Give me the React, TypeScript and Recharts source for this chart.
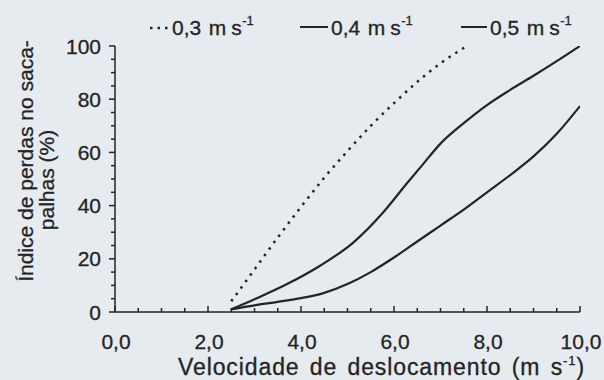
import React from 'react';
import { LineChart, Line, XAxis, YAxis, Legend } from 'recharts';

// ---- data ----
const speed03 = [2.5, 3.0, 3.5, 4.0, 4.5, 5.0, 5.5, 6.0, 6.5, 7.0, 7.57];
const loss03 = [4, 16, 28, 39.5, 50.5, 60.5, 70, 78.5, 86.5, 93.5, 100];

const speed04 = [2.5, 3.0, 3.69, 4.41, 5.13, 5.77, 6.27, 6.63, 7.0, 7.5, 8.0, 8.5, 9.0, 9.5, 10];
const loss04 = [1, 4.8, 10.4, 17.4, 26.2, 37.5, 48.2, 55.7, 63.3, 71, 77.8, 83.5, 88.8, 94.3, 100];

const speed05 = [2.5, 3.0, 3.5, 4.0, 4.5, 5.0, 5.5, 6.0, 6.5, 7.0, 7.5, 8.0, 8.5, 9.0, 9.5, 10];
const loss05 = [1, 2.5, 3.8, 5.2, 7.2, 10.5, 15, 20.5, 26.5, 32.5, 38.5, 45, 51.5, 58.5, 67, 77.4];

const seriesNames = ['0,3', '0,4', '0,5'];
const unitMain = 'm';
const unitSecond = 's';
const unitSup = '-1';

const xTickValues = [0, 0.5, 1, 1.5, 2, 2.5, 3, 3.5, 4, 4.5, 5, 5.5, 6, 6.5, 7, 7.5, 8, 8.5, 9, 9.5, 10];
const xMajorTicks = [0, 2, 4, 6, 8, 10];
const yTickValues = [0, 5, 10, 15, 20, 25, 30, 35, 40, 45, 50, 55, 60, 65, 70, 75, 80, 85, 90, 95, 100];
const yMajorTicks = [0, 20, 40, 60, 80, 100];

const xTitle = 'Velocidade de deslocamento (m s';
const yTitleLine1 = 'Índice de perdas no saca-';
const yTitleLine2 = 'palhas (%)';

const toPoints = (xs: number[], ys: number[]) => xs.map((x, i) => ({ x, y: ys[i] }));
const data03 = toPoints(speed03, loss03);
const data04 = toPoints(speed04, loss04);
const data05 = toPoints(speed05, loss05);

const INK = '#242424';
const BG = '#e5ebee';
const FONT = '"Liberation Sans", Arial, Helvetica, sans-serif';
const TXT = { fill: INK, fontFamily: FONT, stroke: INK, strokeWidth: 0.3 } as const;

const XTick = (props: any) => {
  const { x, y, payload } = props;
  const v = payload.value as number;
  const major = xMajorTicks.includes(v);
  return (
    <g>
      <line x1={x} x2={x} y1={y} y2={y - (major ? 6 : 4)} stroke={INK} strokeWidth={1.5} />
      {major && (
        <text x={x + 1} y={y + 37} textAnchor="middle" fontSize={21} {...TXT}>
          {v.toFixed(1).replace('.', ',')}
        </text>
      )}
    </g>
  );
};

const YTick = (props: any) => {
  const { x, y, payload } = props;
  const v = payload.value as number;
  const major = yMajorTicks.includes(v);
  return (
    <g>
      <line x1={x} x2={x - (major ? 6 : 4)} y1={y} y2={y} stroke={INK} strokeWidth={1.5} />
      {major && (
        <text x={x - 14} y={y + 7.5} textAnchor="end" fontSize={21} {...TXT}>
          {v}
        </text>
      )}
    </g>
  );
};

const XTitle = (props: any) => {
  const vb = props.viewBox || { x: 115, y: 312, width: 465 };
  const cx = vb.x + vb.width / 2 + 34;
  return (
    <text x={cx} y={vb.y + 63} textAnchor="middle" fontSize={23} letterSpacing={0.9} wordSpacing={3} {...TXT}>
      {xTitle}
      <tspan fontSize={13} dy={-10}>{unitSup}</tspan>
      <tspan dy={10}>)</tspan>
    </text>
  );
};

const YTitle = () => (
  <g fontSize={21} {...TXT}>
    <text x={33} y={161} textAnchor="middle" transform="rotate(-90 33 161)">{yTitleLine1}</text>
    <text x={54} y={180} textAnchor="middle" transform="rotate(-90 54 180)">{yTitleLine2}</text>
  </g>
);

const legendLayout = [
  { lineFrom: 150, lineTo: 168, textX: 172, dash: '2.5 5' },
  { lineFrom: 300, lineTo: 328, textX: 331, dash: undefined },
  { lineFrom: 461, lineTo: 487, textX: 490, dash: undefined },
];

const renderLegend = () => (
  <div style={{ position: 'relative', width: 604, height: 0 }}>
    <svg width={604} height={46} style={{ position: 'absolute', left: 0, top: 0, overflow: 'visible' }}>
      {seriesNames.map((name, i) => {
        const l = legendLayout[i];
        return (
          <g key={name}>
            <line
              x1={l.lineFrom}
              x2={l.lineTo}
              y1={i === 0 ? 28 : 27}
              y2={i === 0 ? 28 : 27}
              stroke={INK}
              strokeWidth={i === 0 ? 2.5 : 2}
              strokeDasharray={l.dash}
            />
            <text x={l.textX} y={35} fontSize={21} {...TXT}>
              {name}
              <tspan dx={7.5}>{unitMain}</tspan>
              <tspan dx={5}>{unitSecond}</tspan>
              <tspan dx={0.5} dy={-10} fontSize={13}>{unitSup}</tspan>
            </text>
          </g>
        );
      })}
    </svg>
  </div>
);

export default function App() {
  return (
    <div style={{ position: 'absolute', left: 0, top: 0, width: 604, height: 380, background: BG, overflow: 'hidden' }}>
      <LineChart width={604} height={380} margin={{ top: 46, right: 24, bottom: 0, left: 0 }}>
        <Legend
          verticalAlign="top"
          align="left"
          content={renderLegend}
          wrapperStyle={{ position: 'absolute', top: 0, left: 0, width: 604, height: 0, margin: 0, padding: 0 }}
        />
        <XAxis
          dataKey="x"
          type="number"
          domain={[0, 10]}
          ticks={xTickValues}
          interval={0}
          height={68}
          tickSize={0}
          tickMargin={0}
          tick={<XTick />}
          axisLine={{ stroke: INK, strokeWidth: 1.5 }}
          label={<XTitle />}
          allowDataOverflow
        />
        <YAxis
          type="number"
          domain={[0, 100]}
          ticks={yTickValues}
          interval={0}
          width={115}
          tickSize={0}
          tickMargin={0}
          tick={<YTick />}
          axisLine={{ stroke: INK, strokeWidth: 1.5 }}
          label={<YTitle />}
          allowDataOverflow
        />
        <Line
          data={data03}
          dataKey="y"
          name={seriesNames[0]}
          type="monotone"
          stroke={INK}
          strokeWidth={2.5}
          strokeDasharray="2.5 5.5"
          dot={false}
          activeDot={false}
          isAnimationActive={false}
        />
        <Line
          data={data04}
          dataKey="y"
          name={seriesNames[1]}
          type="monotone"
          stroke={INK}
          strokeWidth={2.2}
          dot={false}
          activeDot={false}
          isAnimationActive={false}
        />
        <Line
          data={data05}
          dataKey="y"
          name={seriesNames[2]}
          type="monotone"
          stroke={INK}
          strokeWidth={2.2}
          dot={false}
          activeDot={false}
          isAnimationActive={false}
        />
      </LineChart>
    </div>
  );
}
